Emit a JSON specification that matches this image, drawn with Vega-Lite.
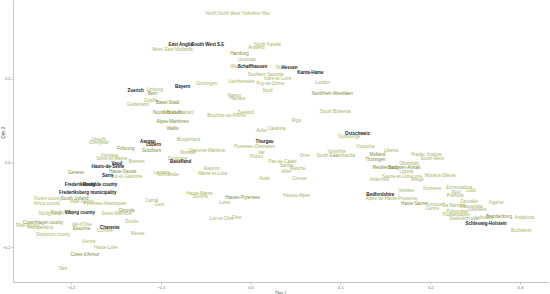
{
  "$schema": "https://vega.github.io/schema/vega-lite/v6.json",
  "width": 535,
  "height": 282,
  "autosize": {"type": "none"},
  "padding": {"left": 13, "top": 0, "right": 2, "bottom": 12},
  "background": "white",
  "config": {
    "view": {"stroke": null},
    "axis": {"grid": false, "domainColor": "#c4c4c4", "tickColor": "#c4c4c4", "tickSize": 2, "labelColor": "#666666", "titleColor": "#555555", "labelFontSize": 4, "titleFontSize": 4.5, "titleFontWeight": "normal", "labelPadding": 1, "titlePadding": 1, "labelFont": "Liberation Sans", "titleFont": "Liberation Sans"}
  },
  "data": {"values": [
    {"label": "North North West Yorkshire Hba", "dim1": -0.0144, "dim2": 0.3548, "q": "low"},
    {"label": "East Anglia", "dim1": -0.0778, "dim2": 0.281, "q": "high"},
    {"label": "South West", "dim1": -0.0522, "dim2": 0.281, "q": "high"},
    {"label": "S.E", "dim1": -0.0333, "dim2": 0.281, "q": "high"},
    {"label": "West, East Midlands", "dim1": -0.0867, "dim2": 0.269, "q": "low"},
    {"label": "Antwerp", "dim1": 0.0067, "dim2": 0.274, "q": "low"},
    {"label": "North Karelia", "dim1": 0.0189, "dim2": 0.281, "q": "low"},
    {"label": "Hamburg", "dim1": -0.0122, "dim2": 0.2595, "q": "mid"},
    {"label": "Uusimaa", "dim1": -0.0044, "dim2": 0.245, "q": "low"},
    {"label": "Schaffhausen", "dim1": 0.0022, "dim2": 0.2286, "q": "high"},
    {"label": "Wien", "dim1": -0.0167, "dim2": 0.2286, "q": "low"},
    {"label": "Tirol", "dim1": 0.0322, "dim2": 0.2262, "q": "low"},
    {"label": "Hessen", "dim1": 0.0433, "dim2": 0.2262, "q": "high"},
    {"label": "Kanta-Hame", "dim1": 0.0667, "dim2": 0.2143, "q": "high"},
    {"label": "Southern Savonia", "dim1": 0.0167, "dim2": 0.2095, "q": "low"},
    {"label": "Indre-et-Loire", "dim1": 0.03, "dim2": 0.2, "q": "low"},
    {"label": "Groningen", "dim1": -0.0489, "dim2": 0.188, "q": "low"},
    {"label": "Liechtenstein", "dim1": -0.01, "dim2": 0.1929, "q": "low"},
    {"label": "Puy-de-Dome", "dim1": 0.0222, "dim2": 0.188, "q": "low"},
    {"label": "London", "dim1": 0.08, "dim2": 0.1905, "q": "low"},
    {"label": "Nord", "dim1": 0.0189, "dim2": 0.1714, "q": "low"},
    {"label": "Nordrhein-Westfalen", "dim1": 0.0911, "dim2": 0.1643, "q": "mid"},
    {"label": "Bayern", "dim1": -0.0756, "dim2": 0.181, "q": "high"},
    {"label": "Namur", "dim1": -0.0178, "dim2": 0.1595, "q": "low"},
    {"label": "Hainaut", "dim1": -0.0144, "dim2": 0.1524, "q": "low"},
    {"label": "Zuerich", "dim1": -0.1278, "dim2": 0.1714, "q": "high"},
    {"label": "Limburg", "dim1": -0.1067, "dim2": 0.1738, "q": "low"},
    {"label": "Bern", "dim1": -0.1089, "dim2": 0.1643, "q": "mid"},
    {"label": "Gelderland", "dim1": -0.1256, "dim2": 0.138, "q": "low"},
    {"label": "Dublin", "dim1": -0.1111, "dim2": 0.1476, "q": "low"},
    {"label": "Basel-Stadt", "dim1": -0.0922, "dim2": 0.1429, "q": "mid"},
    {"label": "Noord-Brabant", "dim1": -0.0922, "dim2": 0.119, "q": "mid"},
    {"label": "Vlaams-Brabant", "dim1": -0.0811, "dim2": 0.119, "q": "low"},
    {"label": "Alpes-Maritimes", "dim1": -0.0867, "dim2": 0.0976, "q": "mid"},
    {"label": "Wallis", "dim1": -0.0867, "dim2": 0.081, "q": "mid"},
    {"label": "Utrecht", "dim1": -0.1689, "dim2": 0.0548, "q": "low"},
    {"label": "Overijssel", "dim1": -0.1689, "dim2": 0.0476, "q": "low"},
    {"label": "Aargau", "dim1": -0.1144, "dim2": 0.05, "q": "high"},
    {"label": "Luzern", "dim1": -0.1078, "dim2": 0.0429, "q": "high"},
    {"label": "Fribourg", "dim1": -0.1389, "dim2": 0.0333, "q": "mid"},
    {"label": "Solothurn", "dim1": -0.11, "dim2": 0.0286, "q": "mid"},
    {"label": "Burgenland", "dim1": -0.0689, "dim2": 0.0548, "q": "low"},
    {"label": "Moselle", "dim1": -0.07, "dim2": 0.0238, "q": "low"},
    {"label": "Charente-Maritime", "dim1": -0.0489, "dim2": 0.0286, "q": "low"},
    {"label": "Finistere", "dim1": -0.1567, "dim2": 0.0167, "q": "low"},
    {"label": "Seine-et-Marne", "dim1": -0.1544, "dim2": 0.0095, "q": "low"},
    {"label": "Bremen", "dim1": -0.1267, "dim2": 0.0024, "q": "low"},
    {"label": "Vaud", "dim1": -0.1489, "dim2": -0.0024, "q": "high"},
    {"label": "Hauts-de-Seine", "dim1": -0.1589, "dim2": -0.0095, "q": "high"},
    {"label": "Geneve", "dim1": -0.1944, "dim2": -0.0238, "q": "mid"},
    {"label": "Haute-Savoie", "dim1": -0.1422, "dim2": -0.0214, "q": "mid"},
    {"label": "Sarre", "dim1": -0.1589, "dim2": -0.031, "q": "high"},
    {"label": "Lot-et-Garonne", "dim1": -0.1378, "dim2": -0.0333, "q": "low"},
    {"label": "Baselland", "dim1": -0.0778, "dim2": 0.0024, "q": "high"},
    {"label": "Dordogne", "dim1": -0.0811, "dim2": 0.0095, "q": "low"},
    {"label": "Lorraine", "dim1": -0.0989, "dim2": -0.0238, "q": "low"},
    {"label": "Normandie", "dim1": -0.0922, "dim2": -0.0286, "q": "low"},
    {"label": "Frederiksborg", "dim1": -0.19, "dim2": -0.0524, "q": "high"},
    {"label": "Roskilde county", "dim1": -0.1678, "dim2": -0.0524, "q": "high"},
    {"label": "Frederiksberg municipality", "dim1": -0.1811, "dim2": -0.0714, "q": "high"},
    {"label": "Funen county", "dim1": -0.2256, "dim2": -0.0857, "q": "low"},
    {"label": "South Jutland", "dim1": -0.1956, "dim2": -0.0857, "q": "mid"},
    {"label": "Arhus county", "dim1": -0.2267, "dim2": -0.0976, "q": "low"},
    {"label": "Vejle county", "dim1": -0.1878, "dim2": -0.0929, "q": "low"},
    {"label": "Pyrenees-Atlantiques", "dim1": -0.1622, "dim2": -0.0976, "q": "low"},
    {"label": "Cantal", "dim1": -0.11, "dim2": -0.0905, "q": "low"},
    {"label": "Gers", "dim1": -0.1011, "dim2": -0.1, "q": "low"},
    {"label": "Haute-Marne", "dim1": -0.0567, "dim2": -0.0738, "q": "low"},
    {"label": "Somme", "dim1": -0.0556, "dim2": -0.081, "q": "low"},
    {"label": "Hautes-Pyrenees", "dim1": -0.0089, "dim2": -0.0833, "q": "mid"},
    {"label": "Loiret", "dim1": -0.0289, "dim2": -0.0952, "q": "low"},
    {"label": "Hautes-Alpes", "dim1": 0.0511, "dim2": -0.0786, "q": "low"},
    {"label": "Loir-et-Cher", "dim1": -0.0322, "dim2": -0.1333, "q": "low"},
    {"label": "Cher", "dim1": -0.0156, "dim2": -0.131, "q": "low"},
    {"label": "Nordjylland", "dim1": -0.2233, "dim2": -0.1214, "q": "low"},
    {"label": "Ringkobing", "dim1": -0.21, "dim2": -0.119, "q": "low"},
    {"label": "Viborg county", "dim1": -0.19, "dim2": -0.119, "q": "high"},
    {"label": "Seine-Maritime", "dim1": -0.1489, "dim2": -0.1214, "q": "low"},
    {"label": "Gironde", "dim1": -0.1378, "dim2": -0.1143, "q": "mid"},
    {"label": "Copenhagen county", "dim1": -0.2311, "dim2": -0.1429, "q": "mid"},
    {"label": "Ribe county", "dim1": -0.2478, "dim2": -0.15, "q": "low"},
    {"label": "Vestsjaelland", "dim1": -0.2344, "dim2": -0.1548, "q": "low"},
    {"label": "Val-d'Oise", "dim1": -0.1878, "dim2": -0.1476, "q": "low"},
    {"label": "Essonne", "dim1": -0.1878, "dim2": -0.1571, "q": "mid"},
    {"label": "Storstrom county", "dim1": -0.22, "dim2": -0.1714, "q": "low"},
    {"label": "Correze", "dim1": -0.1622, "dim2": -0.1619, "q": "low"},
    {"label": "Charente", "dim1": -0.1567, "dim2": -0.1548, "q": "high"},
    {"label": "Doubs", "dim1": -0.1322, "dim2": -0.1405, "q": "low"},
    {"label": "Meuse", "dim1": -0.1256, "dim2": -0.169, "q": "low"},
    {"label": "Vienne", "dim1": -0.18, "dim2": -0.1881, "q": "low"},
    {"label": "Haute-Loire", "dim1": -0.1611, "dim2": -0.2024, "q": "low"},
    {"label": "Cotes-d'Armor", "dim1": -0.1844, "dim2": -0.219, "q": "mid"},
    {"label": "Tarn", "dim1": -0.2089, "dim2": -0.2524, "q": "low"},
    {"label": "Zeeland", "dim1": -0.0056, "dim2": 0.119, "q": "low"},
    {"label": "Bouches-du-Rhone", "dim1": -0.0267, "dim2": 0.1119, "q": "low"},
    {"label": "South Bohemia", "dim1": 0.0944, "dim2": 0.1214, "q": "low"},
    {"label": "Riga", "dim1": 0.0511, "dim2": 0.1, "q": "low"},
    {"label": "Cataluna", "dim1": 0.0289, "dim2": 0.081, "q": "low"},
    {"label": "Aube", "dim1": 0.0122, "dim2": 0.0762, "q": "low"},
    {"label": "Thurgau", "dim1": 0.0156, "dim2": 0.05, "q": "high"},
    {"label": "Pyrenees-Orientales", "dim1": 0.0044, "dim2": 0.0381, "q": "low"},
    {"label": "Var", "dim1": 0.0122, "dim2": 0.0238, "q": "low"},
    {"label": "Poitou", "dim1": 0.0067, "dim2": 0.0143, "q": "low"},
    {"label": "Pas-de-Calais", "dim1": 0.0356, "dim2": 0.0024, "q": "low"},
    {"label": "Sarthe", "dim1": 0.04, "dim2": -0.0071, "q": "low"},
    {"label": "Manche", "dim1": 0.0522, "dim2": -0.0143, "q": "low"},
    {"label": "Allier", "dim1": 0.04, "dim2": -0.0214, "q": "low"},
    {"label": "Orne", "dim1": 0.06, "dim2": 0.0167, "q": "low"},
    {"label": "Aveyron", "dim1": -0.0433, "dim2": -0.0143, "q": "low"},
    {"label": "Maine-et-Loire", "dim1": -0.0422, "dim2": -0.0262, "q": "low"},
    {"label": "Aude", "dim1": 0.0156, "dim2": -0.0381, "q": "low"},
    {"label": "Creuse", "dim1": 0.0544, "dim2": -0.0381, "q": "low"},
    {"label": "Yorkshire", "dim1": 0.0956, "dim2": 0.0262, "q": "low"},
    {"label": "South East", "dim1": 0.0856, "dim2": 0.0167, "q": "low"},
    {"label": "Lombardia", "dim1": 0.1044, "dim2": 0.0167, "q": "low"},
    {"label": "Ostschweiz", "dim1": 0.1189, "dim2": 0.069, "q": "high"},
    {"label": "Sydsverige", "dim1": 0.11, "dim2": 0.0619, "q": "low"},
    {"label": "Vysocina", "dim1": 0.1278, "dim2": 0.0381, "q": "low"},
    {"label": "Midland", "dim1": 0.1411, "dim2": 0.019, "q": "mid"},
    {"label": "Thuringen", "dim1": 0.1389, "dim2": 0.0071, "q": "mid"},
    {"label": "Ardennes", "dim1": 0.1433, "dim2": -0.0405, "q": "low"},
    {"label": "Liberec", "dim1": 0.1567, "dim2": 0.0286, "q": "low"},
    {"label": "Hradec Kralove", "dim1": 0.1956, "dim2": 0.019, "q": "low"},
    {"label": "South-West", "dim1": 0.2022, "dim2": 0.0095, "q": "low"},
    {"label": "Oberpfalz", "dim1": 0.1767, "dim2": -0.0024, "q": "low"},
    {"label": "Mecklenburg", "dim1": 0.15, "dim2": -0.0119, "q": "mid"},
    {"label": "Sachsen-Anhalt", "dim1": 0.1711, "dim2": -0.0119, "q": "mid"},
    {"label": "Liguria", "dim1": 0.1733, "dim2": -0.0214, "q": "low"},
    {"label": "Saone-et-Loire", "dim1": 0.1633, "dim2": -0.0333, "q": "low"},
    {"label": "Loire", "dim1": 0.1856, "dim2": -0.0333, "q": "low"},
    {"label": "Ariege", "dim1": 0.1856, "dim2": -0.0405, "q": "low"},
    {"label": "Moravia-Silesia", "dim1": 0.2111, "dim2": -0.031, "q": "low"},
    {"label": "Vendee", "dim1": 0.1733, "dim2": -0.0667, "q": "low"},
    {"label": "Kurzeme", "dim1": 0.2022, "dim2": -0.0619, "q": "low"},
    {"label": "Extremadura", "dim1": 0.2322, "dim2": -0.0595, "q": "low"},
    {"label": "Lodz", "dim1": 0.2456, "dim2": -0.0667, "q": "low"},
    {"label": "Pest", "dim1": 0.2289, "dim2": -0.0714, "q": "low"},
    {"label": "Prahova", "dim1": 0.2278, "dim2": -0.0786, "q": "low"},
    {"label": "Bedfordshire", "dim1": 0.1444, "dim2": -0.0762, "q": "high"},
    {"label": "Alpes-de-Haute-Provence", "dim1": 0.1567, "dim2": -0.0857, "q": "low"},
    {"label": "Haute-Saone", "dim1": 0.1822, "dim2": -0.0976, "q": "mid"},
    {"label": "Limousin", "dim1": 0.2067, "dim2": -0.1, "q": "low"},
    {"label": "Centre", "dim1": 0.2022, "dim2": -0.1095, "q": "low"},
    {"label": "La Mancha", "dim1": 0.2267, "dim2": -0.1024, "q": "low"},
    {"label": "Opolskie", "dim1": 0.2433, "dim2": -0.0929, "q": "low"},
    {"label": "Malopolska", "dim1": 0.2456, "dim2": -0.1048, "q": "low"},
    {"label": "Lubelskie", "dim1": 0.2522, "dim2": -0.1119, "q": "low"},
    {"label": "Algarve", "dim1": 0.2733, "dim2": -0.0952, "q": "low"},
    {"label": "Pomorskie", "dim1": 0.23, "dim2": -0.1167, "q": "low"},
    {"label": "Podkarpackie", "dim1": 0.2289, "dim2": -0.1238, "q": "low"},
    {"label": "Swietokrzyskie", "dim1": 0.2378, "dim2": -0.1333, "q": "low"},
    {"label": "Schleswig-Holstein", "dim1": 0.2622, "dim2": -0.1452, "q": "high"},
    {"label": "Andalucia", "dim1": 0.3044, "dim2": -0.131, "q": "low"},
    {"label": "Brandenburg", "dim1": 0.2767, "dim2": -0.1286, "q": "mid"},
    {"label": "Lubuskie", "dim1": 0.26, "dim2": -0.131, "q": "low"},
    {"label": "Bucharest", "dim1": 0.3011, "dim2": -0.1619, "q": "low"}
  ]},
  "encoding": {
    "x": {"field": "dim1", "type": "quantitative", "title": "Dim 1", "scale": {"domain": [-0.2644, 0.3311], "nice": false, "zero": false}, "axis": {"values": [-0.2, -0.1, 0, 0.1, 0.2, 0.3], "format": ".1f"}},
    "y": {"field": "dim2", "type": "quantitative", "title": "Dim 2", "scale": {"domain": [-0.2833, 0.388], "nice": false, "zero": false}, "axis": {"values": [-0.2, 0, 0.2], "format": ".1f", "titleY": 132, "titleX": -8}},
    "text": {"field": "label"},
    "color": {"field": "q", "type": "nominal", "legend": null, "scale": {"domain": ["low", "mid", "high"], "range": ["#a4b35f", "#788a36", "#222222"]}}
  },
  "layer": [
    {"transform": [{"filter": "datum.q != 'high'"}], "mark": {"type": "text", "font": "Liberation Sans", "fontSize": 4.5, "align": "center", "baseline": "middle"}},
    {"transform": [{"filter": "datum.q == 'high'"}], "mark": {"type": "text", "font": "Liberation Sans", "fontSize": 4.5, "fontWeight": "bold", "align": "center", "baseline": "middle"}}
  ]
}
